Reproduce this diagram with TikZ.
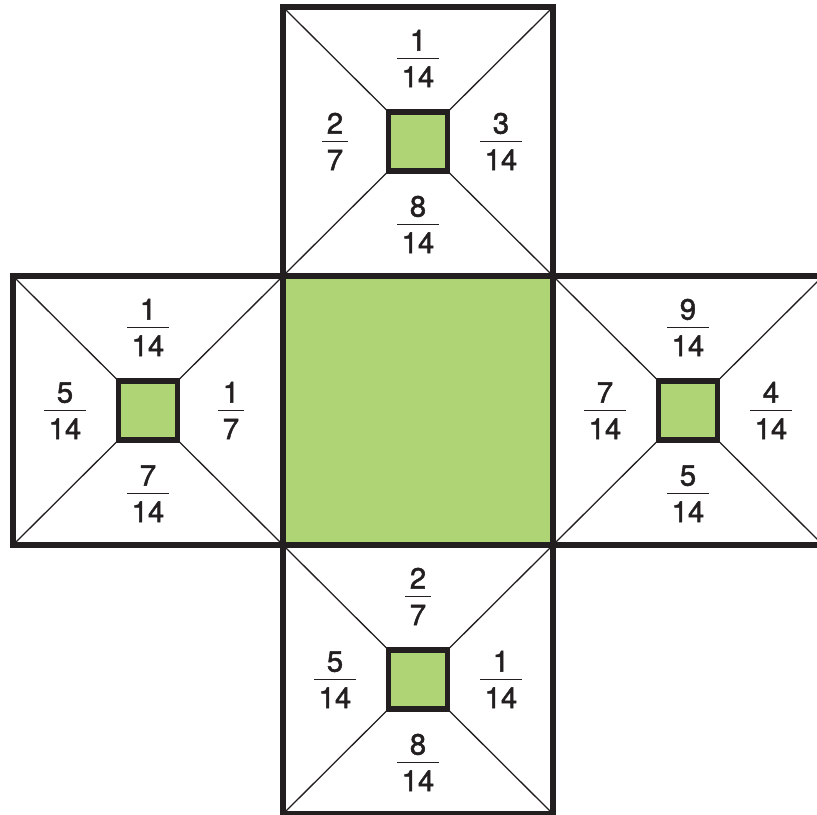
\documentclass[tikz,border=0pt]{standalone}
\usepackage{amsmath}
\usepackage{fontspec}
\setmainfont{TeX Gyre Heros}
\newfontfamily\fracfont{TeX Gyre Heros}[FakeBold=1.6]
\usepackage{tikz}
\definecolor{leaf}{RGB}{174,212,118}
\definecolor{ink}{RGB}{35,31,32}
\newcommand\fr[2]{$\genfrac{}{}{1.5pt}{0}{\raisebox{-3.85pt}{#1}}{\raisebox{-1.1pt}{\kern3.8pt#2\kern3.8pt}}$}

\begin{document}
\begin{tikzpicture}[
  x=0.3mm, y=-0.3mm,
  face/.style={draw=ink, line width=4.6pt, fill=white, inner sep=0pt, outer sep=0pt, minimum width=81mm, minimum height=80.7mm},
  core/.style={draw=ink, line width=4.8pt, fill=leaf, inner sep=0pt, outer sep=0pt, minimum size=17.7mm},
  ray/.style={draw=ink, line width=1.1pt},
  frac/.style={anchor=base, yshift=-6.25pt, inner sep=0pt, text=ink, font=\fontsize{25}{29}\fracfont}
]
\useasboundingbox (0,0) rectangle (817,814);
\fill[white] (0,0) rectangle (817,814);
\clip (0,0) rectangle (817,814);

% four side faces, each with its small square and four fractions
\foreach \nm/\cx/\cy/\na/\da/\nb/\db/\nc/\dc/\nd/\dd in {
  top/418/141.5/1/14/2/7/3/14/8/14,
  left/148/410.5/1/14/5/14/1/7/7/14,
  right/688/410.5/9/14/7/14/4/14/5/14,
  bottom/418/679.5/2/7/5/14/1/14/8/14}{
  \node[face] (\nm) at (\cx,\cy) {};
  \node[core] (\nm-c) at (\cx,\cy) {};
  \foreach \k in {north west, north east, south west, south east}
    \draw[ray] (\nm.\k) -- (\nm-c.\k);
  \node[frac] (\nm-t) at (\cx,\cy-83) {\fr{\na}{\da}};
  \node[frac] (\nm-l) at (\cx-83,\cy) {\fr{\nb}{\db}};
  \node[frac] (\nm-r) at (\cx+83,\cy) {\fr{\nc}{\dc}};
  \node[frac] (\nm-b) at (\cx,\cy+83) {\fr{\nd}{\dd}};
}

% middle face
\node[face, fill=leaf] (mid) at (418,410.5) {};
\end{tikzpicture}
\end{document}
